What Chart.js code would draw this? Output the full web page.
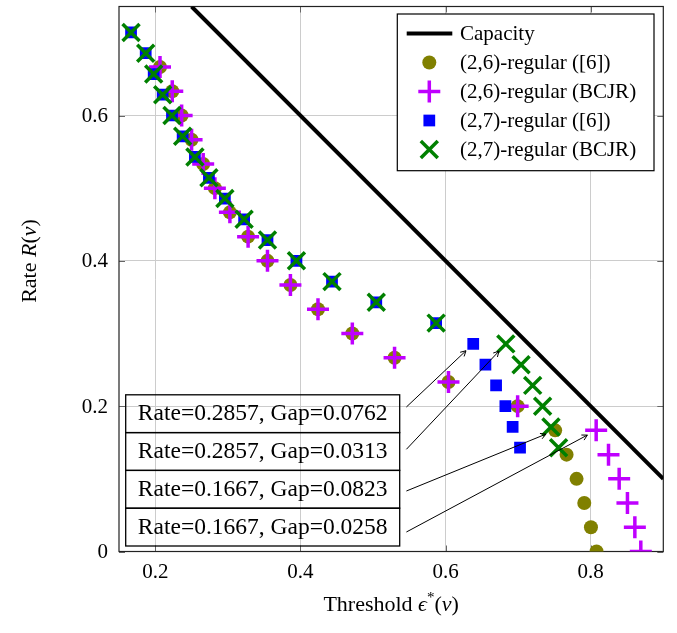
<!DOCTYPE html>
<html>
<head>
<meta charset="utf-8">
<title>Rate vs threshold</title>
<script src="https://cdn.jsdelivr.net/npm/chart.js@4.4.1/dist/chart.umd.min.js"></script>
<style>
  html, body { margin: 0; padding: 0; background: #fff; }
</style>
</head>
<body>
<canvas id="rateChart" width="677" height="633"></canvas>
<script>
// design rates of the two ensembles
const rates26 = [0.6667, 0.6333, 0.6, 0.5667, 0.5333, 0.5, 0.4667, 0.4333, 0.4, 0.3667, 0.3333,
                 0.3, 0.2667, 0.2333, 0.2, 0.1667, 0.1333, 0.1, 0.0667, 0.0333, 0];
const rates27 = [0.7143, 0.6857, 0.6571, 0.6286, 0.6, 0.5714, 0.5429, 0.5143, 0.4857, 0.4571, 0.4286,
                 0.4, 0.3714, 0.3429, 0.3143, 0.2857, 0.2571, 0.2286, 0.2, 0.1714, 0.1429];

// thresholds from [6] and from the BCJR based analysis
const eps26Ref  = [0.2065, 0.2234, 0.2363, 0.25, 0.266, 0.2821, 0.3028, 0.3279, 0.3546, 0.3862, 0.4242,
                   0.4715, 0.5297, 0.604, 0.6993, 0.751, 0.7667, 0.7805, 0.7911, 0.8003, 0.808];
const eps26Bcjr = [0.2065, 0.2234, 0.2363, 0.25, 0.266, 0.2821, 0.3028, 0.3279, 0.3546, 0.3862, 0.4242,
                   0.4715, 0.5297, 0.604, 0.6993, 0.8075, 0.8245, 0.8392, 0.8506, 0.8608, 0.869];
const eps27Ref  = [0.1666, 0.1868, 0.1978, 0.2102, 0.223, 0.2377, 0.2546, 0.2739, 0.2959, 0.3224, 0.3546,
                   0.3945, 0.4435, 0.5045, 0.587, 0.6381, 0.6549, 0.6696, 0.6824, 0.6924, 0.7026];
const eps27Bcjr = [0.1666, 0.1868, 0.1978, 0.2102, 0.223, 0.2377, 0.2546, 0.2739, 0.2959, 0.3224, 0.3546,
                   0.3945, 0.4435, 0.5045, 0.587, 0.683, 0.704, 0.72, 0.7337, 0.7452, 0.7557];

// capacity R = 1 - eps, end points inside the axis box
const capacityEps  = [0.25, 0.9];
const capacityRate = [0.75, 0.1];

const xTicks = [0.2, 0.4, 0.6, 0.8];
const yTicks = [0, 0.2, 0.4, 0.6];

const seriesLabels = ['Capacity', '(2,6)-regular ([6])', '(2,6)-regular (BCJR)',
                      '(2,7)-regular ([6])', '(2,7)-regular (BCJR)'];

// gap notes: text, dataset index, point index
const noteTexts   = ['Rate=0.2857, Gap=0.0762', 'Rate=0.2857, Gap=0.0313',
                     'Rate=0.1667, Gap=0.0823', 'Rate=0.1667, Gap=0.0258'];
const noteSeries  = [3, 4, 1, 2];
const notePoints  = [15, 15, 15, 15];
const noteTailDy  = [12.2, 16.7, 20.6, 23.8];

const serif = '"Liberation Serif", "Times New Roman", serif';

function toPoints(xs, ys) {
   return xs.map((x, i) => ({x: x, y: ys[i]}));
}

let datasets = [
   {
      type: 'line',
      label: seriesLabels[0],
      data: toPoints(capacityEps, capacityRate),
      borderColor: '#000',
      borderWidth: 4,
      pointRadius: 0,
      fill: false,
      order: 5
   },
   {
      label: seriesLabels[1],
      data: toPoints(eps26Ref, rates26),
      pointStyle: 'circle',
      pointRadius: 7,
      backgroundColor: '#808000',
      borderColor: '#808000',
      borderWidth: 0,
      order: 4
   },
   {
      label: seriesLabels[2],
      data: toPoints(eps26Bcjr, rates26),
      pointStyle: 'cross',
      pointRadius: 11,
      backgroundColor: '#bf00ff',
      borderColor: '#bf00ff',
      borderWidth: 3.5,
      order: 3
   },
   {
      label: seriesLabels[3],
      data: toPoints(eps27Ref, rates27),
      pointStyle: 'rect',
      pointRadius: 8.3,
      backgroundColor: '#0000ff',
      borderColor: '#0000ff',
      borderWidth: 0,
      order: 2
   },
   {
      label: seriesLabels[4],
      data: toPoints(eps27Bcjr, rates27),
      pointStyle: 'crossRot',
      pointRadius: 12,
      backgroundColor: '#008000',
      borderColor: '#008000',
      borderWidth: 3.5,
      order: 1
   }
];

function markerOpts(ds) {
   return {
      pointStyle: ds.pointStyle,
      radius: ds.pointRadius,
      borderWidth: ds.borderWidth,
      rotation: 0
   };
}

// draw text made of runs with their own style
function drawRuns(ctx, runs, x, y) {
   let cx = x;
   runs.forEach((r) => {
      ctx.font = r.font;
      ctx.fillText(r.text, cx, y + (r.dy || 0));
      cx += ctx.measureText(r.text).width;
   });
}

function runsWidth(ctx, runs) {
   let w = 0;
   runs.forEach((r) => {
      ctx.font = r.font;
      w += ctx.measureText(r.text).width;
   });
   return w;
}

function drawArrow(ctx, x0, y0, x1, y1, gap) {
   const ang = Math.atan2(y1 - y0, x1 - x0);
   const ex = x1 - Math.cos(ang) * gap;
   const ey = y1 - Math.sin(ang) * gap;
   ctx.beginPath();
   ctx.moveTo(x0, y0);
   ctx.lineTo(ex, ey);
   ctx.stroke();
   const len = 6, spread = 0.5;
   ctx.beginPath();
   ctx.moveTo(ex - len * Math.cos(ang - spread), ey - len * Math.sin(ang - spread));
   ctx.lineTo(ex, ey);
   ctx.lineTo(ex - len * Math.cos(ang + spread), ey - len * Math.sin(ang + spread));
   ctx.stroke();
}

const boxPlugin = {
   id: 'boxPlugin',
   beforeDatasetsDraw(chart) {
      const ctx = chart.ctx;
      const ca = chart.chartArea;
      const xs = chart.scales.x, ys = chart.scales.y;
      ctx.save();
      // inner tick marks on all four sides
      ctx.strokeStyle = '#666';
      ctx.lineWidth = 1;
      const tl = 6;
      ctx.beginPath();
      xTicks.forEach((v) => {
         const px = Math.round(xs.getPixelForValue(v)) + 0.5;
         ctx.moveTo(px, ca.bottom); ctx.lineTo(px, ca.bottom - tl);
         ctx.moveTo(px, ca.top); ctx.lineTo(px, ca.top + tl);
      });
      yTicks.forEach((v) => {
         const py = Math.round(ys.getPixelForValue(v)) + 0.5;
         ctx.moveTo(ca.left, py); ctx.lineTo(ca.left + tl, py);
         ctx.moveTo(ca.right, py); ctx.lineTo(ca.right - tl, py);
      });
      ctx.stroke();
      // axis frame
      ctx.strokeStyle = '#222';
      ctx.lineWidth = 1.2;
      ctx.strokeRect(ca.left, ca.top, ca.right - ca.left, ca.bottom - ca.top);
      ctx.restore();
   },
   afterDatasetsDraw(chart) {
      const ctx = chart.ctx;
      const ca = chart.chartArea;
      ctx.save();

      // gap notes with arrows
      const boxH = 37.8, boxW = 274;
      const boxLeft = ca.left + 6.7;
      const boxTop = ca.bottom - 5.5 - boxH * noteTexts.length;
      ctx.strokeStyle = '#000';
      ctx.fillStyle = '#000';
      noteTexts.forEach((txt, i) => {
         const top = boxTop + i * boxH;
         ctx.lineWidth = 1.3;
         ctx.strokeRect(boxLeft, top, boxW, boxH);
         ctx.font = '23.5px ' + serif;
         ctx.textAlign = 'center';
         ctx.textBaseline = 'alphabetic';
         ctx.fillText(txt, boxLeft + boxW / 2, top + 25.3);

         const pt = chart.getDatasetMeta(noteSeries[i]).data[notePoints[i]];
         ctx.lineWidth = 1;
         drawArrow(ctx, boxLeft + boxW + 6.7, top + noteTailDy[i], pt.x, pt.y, 10);
      });

      // legend
      const lgW = 256.7, lgH = 156.7;
      const lgLeft = ca.right - 266, lgTop = ca.top + 7.5;
      ctx.fillStyle = '#fff';
      ctx.fillRect(lgLeft, lgTop, lgW, lgH);
      ctx.strokeStyle = '#000';
      ctx.lineWidth = 1.2;
      ctx.strokeRect(lgLeft, lgTop, lgW, lgH);
      ctx.textAlign = 'left';
      ctx.textBaseline = 'alphabetic';
      chart.data.datasets.forEach((ds, i) => {
         const cy = lgTop + 19.5 + i * 29;
         const cx = lgLeft + 32;
         if (ds.type === 'line') {
            ctx.strokeStyle = ds.borderColor;
            ctx.lineWidth = ds.borderWidth;
            ctx.beginPath();
            ctx.moveTo(lgLeft + 9.4, cy);
            ctx.lineTo(lgLeft + 55, cy);
            ctx.stroke();
         } else {
            ctx.fillStyle = ds.backgroundColor;
            ctx.strokeStyle = ds.borderColor;
            ctx.lineWidth = ds.borderWidth;
            Chart.helpers.drawPoint(ctx, markerOpts(ds), cx, cy);
         }
         ctx.fillStyle = '#000';
         ctx.font = '21px ' + serif;
         ctx.fillText(ds.label, lgLeft + 62.7, cy + 6.5);
      });
      ctx.restore();
   },
   afterDraw(chart) {
      const ctx = chart.ctx;
      const ca = chart.chartArea;
      const normal = '22px ' + serif;
      const italic = 'italic 22px ' + serif;
      ctx.save();
      ctx.fillStyle = '#000';
      ctx.textAlign = 'left';
      ctx.textBaseline = 'alphabetic';

      // x axis title
      const xRuns = [
         {text: 'Threshold ', font: normal},
         {text: '\u03F5', font: italic},
         {text: '*', font: '15px ' + serif, dy: -9},
         {text: '(', font: normal},
         {text: '\u03BD', font: italic},
         {text: ')', font: normal}
      ];
      const xw = runsWidth(ctx, xRuns);
      drawRuns(ctx, xRuns, (ca.left + ca.right) / 2 - xw / 2, ca.bottom + 59.5);

      // y axis title, rotated
      const yRuns = [
         {text: 'Rate ', font: normal},
         {text: 'R', font: italic},
         {text: '(', font: normal},
         {text: '\u03BD', font: italic},
         {text: ')', font: normal}
      ];
      const yw = runsWidth(ctx, yRuns);
      ctx.translate(36, 261);
      ctx.rotate(-Math.PI / 2);
      drawRuns(ctx, yRuns, -yw / 2, 0);
      ctx.restore();
   }
};

function tickText(v) {
   return Number(v.toFixed(2)).toString();
}

new Chart(document.getElementById('rateChart'), {
   type: 'scatter',
   data: {datasets: datasets},
   options: {
      responsive: false,
      animation: false,
      events: [],
      layout: {autoPadding: false, padding: {top: 6.5, right: 13.7, left: 0, bottom: 0}},
      plugins: {
         legend: {display: false},
         tooltip: {enabled: false}
      },
      scales: {
         x: {
            type: 'linear',
            min: 0.15,
            max: 0.9,
            afterBuildTicks: (scale) => { scale.ticks = xTicks.map((v) => ({value: v})); },
            afterFit: (scale) => {
               scale.height = 81.5;
               scale.paddingLeft = 0;
               scale.paddingRight = 0;
            },
            grid: {color: '#cccccc', lineWidth: 1, drawTicks: false},
            border: {display: false},
            ticks: {
               padding: 8,
               color: '#000',
               font: {family: serif, size: 21},
               callback: (v) => tickText(v)
            }
         },
         y: {
            type: 'linear',
            min: 0,
            max: 0.75,
            afterBuildTicks: (scale) => { scale.ticks = yTicks.map((v) => ({value: v})); },
            afterFit: (scale) => {
               scale.width = 119;
               scale.paddingTop = 0;
               scale.paddingBottom = 0;
            },
            grid: {color: '#cccccc', lineWidth: 1, drawTicks: false},
            border: {display: false},
            ticks: {
               padding: 11,
               labelOffset: 1,
               color: '#000',
               font: {family: serif, size: 21},
               callback: (v) => tickText(v)
            }
         }
      }
   },
   plugins: [boxPlugin]
});
</script>
</body>
</html>
